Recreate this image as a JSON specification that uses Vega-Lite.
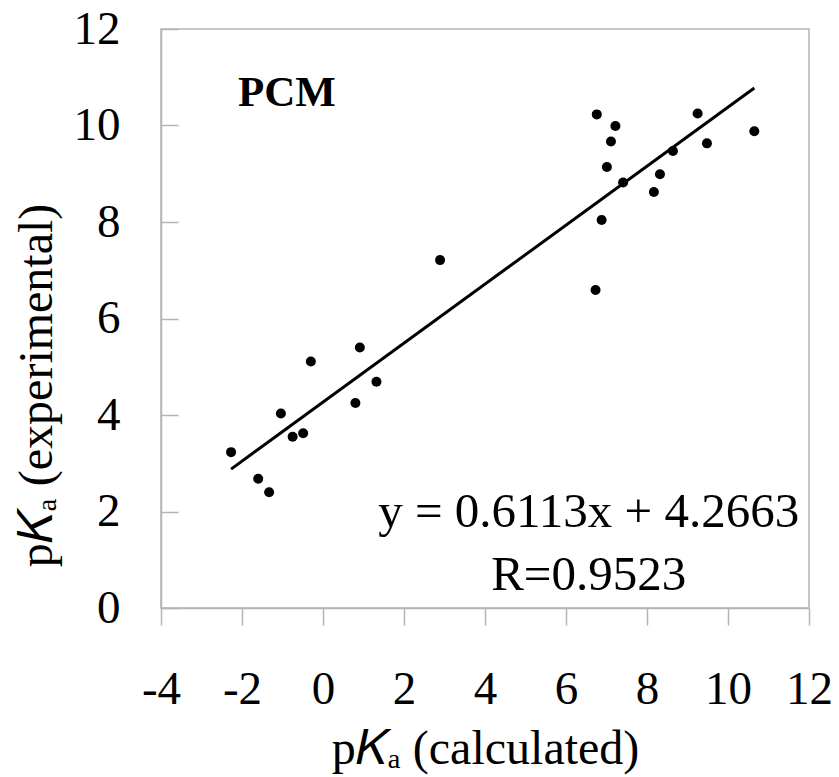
{
  "$schema": "https://vega.github.io/schema/vega-lite/v6.json",
  "width": 648,
  "height": 579,
  "autosize": {"type": "none"},
  "padding": {"left": 161, "top": 29, "right": 30, "bottom": 169},
  "background": "white",
  "config": {
    "view": {"stroke": "#b4b4b4", "strokeWidth": 1.5},
    "font": "Liberation Serif"
  },
  "datasets": {
    "points": [
      {"calc": -2.27, "exp": 3.23},
      {"calc": -1.60, "exp": 2.68},
      {"calc": -1.33, "exp": 2.40},
      {"calc": -1.04, "exp": 4.03},
      {"calc": -0.75, "exp": 3.55},
      {"calc": -0.49, "exp": 3.62},
      {"calc": -0.30, "exp": 5.11},
      {"calc": 0.80, "exp": 4.25},
      {"calc": 0.91, "exp": 5.40},
      {"calc": 1.32, "exp": 4.69},
      {"calc": 2.89, "exp": 7.21},
      {"calc": 6.76, "exp": 10.23},
      {"calc": 7.22, "exp": 9.99},
      {"calc": 7.11, "exp": 9.67},
      {"calc": 7.01, "exp": 9.14},
      {"calc": 7.41, "exp": 8.82},
      {"calc": 6.88, "exp": 8.04},
      {"calc": 6.73, "exp": 6.59},
      {"calc": 9.25, "exp": 10.25},
      {"calc": 9.48, "exp": 9.63},
      {"calc": 8.64, "exp": 9.47},
      {"calc": 8.32, "exp": 8.99},
      {"calc": 8.17, "exp": 8.62},
      {"calc": 10.65, "exp": 9.88}
    ],
    "fit": [
      {"calc": -2.27, "exp": 2.879},
      {"calc": 10.65, "exp": 10.777}
    ]
  },
  "layer": [
    {
      "data": {"name": "points"},
      "mark": {"type": "point", "filled": true, "size": 100, "color": "black", "opacity": 1},
      "encoding": {
        "x": {
          "field": "calc", "type": "quantitative",
          "scale": {"domain": [-4, 12], "nice": false, "zero": false},
          "axis": {
            "values": [-4, -2, 0, 2, 4, 6, 8, 10, 12],
            "labelExpr": "datum.value < 0 ? '-' + abs(datum.value) : '' + datum.value",
            "grid": false,
            "tickSize": 17, "tickColor": "#b4b4b4", "tickWidth": 1.5,
            "domainColor": "#b4b4b4", "domainWidth": 1.5,
            "labelFont": "Liberation Serif", "labelFontSize": 47, "labelColor": "black",
            "labelPadding": 41, "labelFlush": false, "labelOverlap": false,
            "title": "p𝐾ₐ (calculated)",
            "titleFont": "Liberation Serif", "titleFontSize": 48, "titleFontWeight": "normal",
            "titleColor": "black", "titleY": 155, "titleBaseline": "alphabetic"
          }
        },
        "y": {
          "field": "exp", "type": "quantitative",
          "scale": {"domain": [0, 12], "nice": false, "zero": false},
          "axis": {
            "values": [0, 2, 4, 6, 8, 10, 12],
            "grid": false,
            "tickSize": -17, "tickColor": "#b4b4b4", "tickWidth": 1.5,
            "domainColor": "#b4b4b4", "domainWidth": 1.5,
            "labelFont": "Liberation Serif", "labelFontSize": 47, "labelColor": "black",
            "labelPadding": 58, "labelFlush": false, "labelOverlap": false,
            "title": "p𝐾ₐ (experimental)",
            "titleFont": "Liberation Serif", "titleFontSize": 48, "titleFontWeight": "normal",
            "titleColor": "black", "titleX": -124, "titleY": 356,
            "titleAngle": -90, "titleAlign": "center", "titleBaseline": "middle"
          }
        }
      }
    },
    {
      "data": {"name": "fit"},
      "mark": {"type": "line", "color": "black", "strokeWidth": 3},
      "encoding": {
        "x": {"field": "calc", "type": "quantitative"},
        "y": {"field": "exp", "type": "quantitative"}
      }
    },
    {
      "data": {"values": [{"label": "PCM"}]},
      "mark": {"type": "text", "font": "Liberation Serif", "fontSize": 43, "fontWeight": "bold", "color": "black", "align": "center", "baseline": "alphabetic"},
      "encoding": {
        "x": {"datum": -0.89},
        "y": {"datum": 10.40},
        "text": {"field": "label"}
      }
    },
    {
      "data": {"values": [{"eq": ["y = 0.6113x + 4.2663", "R=0.9523"]}]},
      "mark": {"type": "text", "font": "Liberation Serif", "fontSize": 49, "color": "black", "align": "center", "baseline": "alphabetic", "lineHeight": 63},
      "encoding": {
        "x": {"datum": 6.56},
        "y": {"datum": 1.68},
        "text": {"field": "eq"}
      }
    }
  ]
}
